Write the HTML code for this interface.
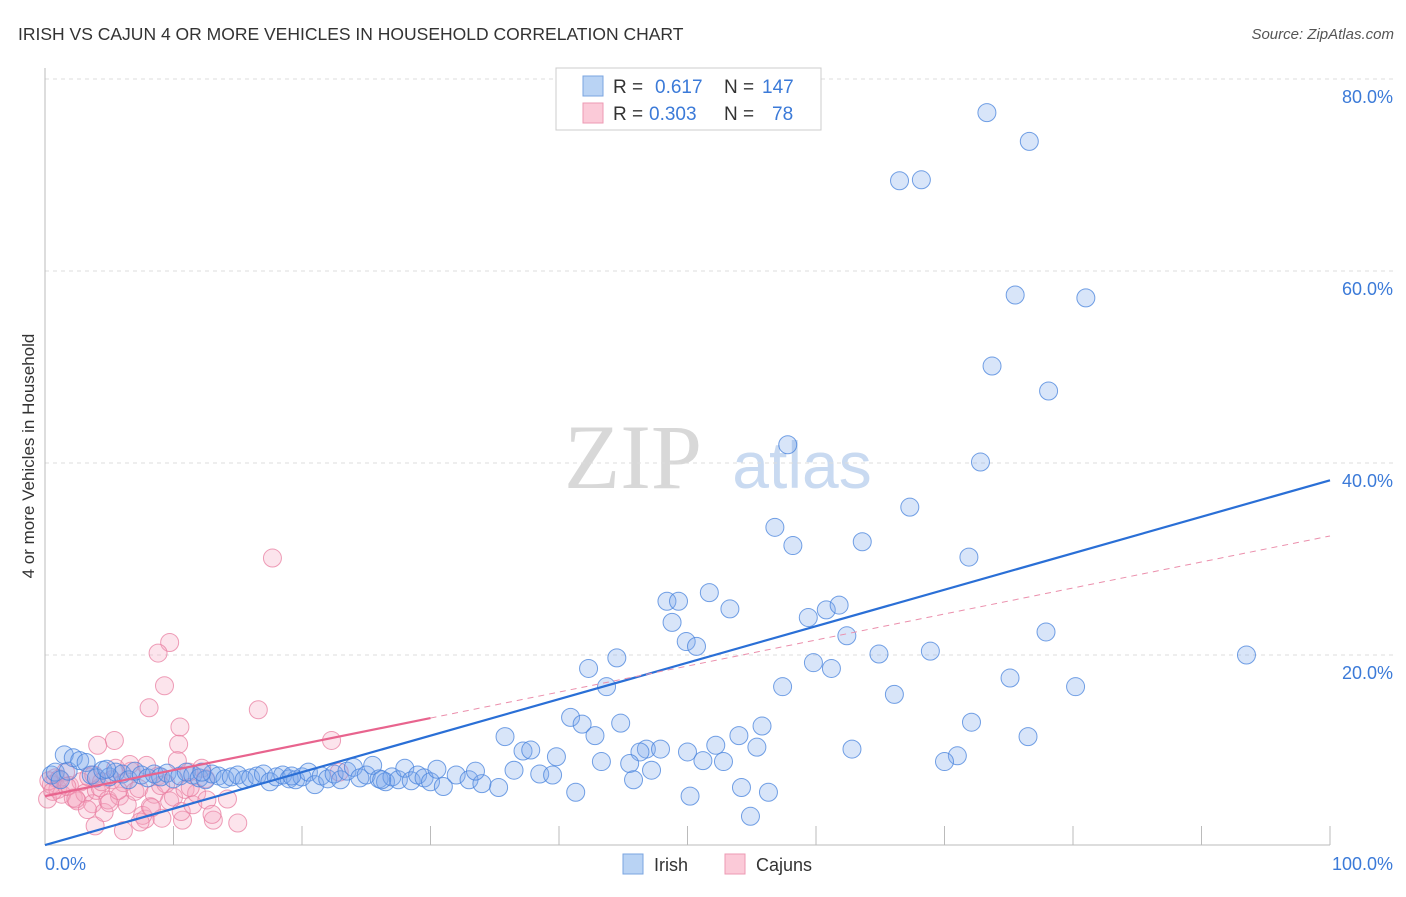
<!DOCTYPE html>
<html><head><meta charset="utf-8"><style>
body{margin:0;background:#fff;font-family:"Liberation Sans",sans-serif}
</style></head><body>
<svg id="c" width="1406" height="892" xmlns="http://www.w3.org/2000/svg">
<text x="18" y="40" font-size="17.5" fill="#333">IRISH VS CAJUN 4 OR MORE VEHICLES IN HOUSEHOLD CORRELATION CHART</text>
<text x="1394" y="39" font-size="15" fill="#555" font-style="italic" text-anchor="end">Source: ZipAtlas.com</text>
<text x="633" y="488" font-size="92" fill="#d8d8d8" font-family="Liberation Serif,serif" text-anchor="middle">ZIP</text>
<text x="802" y="488" font-size="66" fill="#c9daf1" text-anchor="middle">atlas</text>
<text transform="translate(34,456) rotate(-90)" font-size="17" fill="#333" text-anchor="middle">4 or more Vehicles in Household</text>
<g id="grid"></g><g id="pts"></g><g id="lines"></g>
<g>
<rect x="556" y="68" width="265" height="62" fill="#fff" stroke="#ccc"/>
<rect x="583" y="76" width="20" height="20" fill="#b9d3f4" stroke="#7aa5e0"/>
<rect x="583" y="103" width="20" height="20" fill="#fbcad8" stroke="#ec9ab3"/>
<text x="613" y="93" font-size="19" fill="#333">R =</text><text x="655" y="93" font-size="19" fill="#3b7ad8">0.617</text>
<text x="724" y="93" font-size="19" fill="#333">N =</text><text x="762" y="93" font-size="19" fill="#3b7ad8">147</text>
<text x="613" y="120" font-size="19" fill="#333">R =</text><text x="649" y="120" font-size="19" fill="#3b7ad8">0.303</text>
<text x="724" y="120" font-size="19" fill="#333">N =</text><text x="772" y="120" font-size="19" fill="#3b7ad8">78</text>
</g>
<g>
<rect x="623" y="854" width="20" height="20" fill="#b9d3f4" stroke="#7aa5e0"/>
<text x="654" y="871" font-size="18" fill="#333">Irish</text>
<rect x="725" y="854" width="20" height="20" fill="#fbcad8" stroke="#ec9ab3"/>
<text x="756" y="871" font-size="18" fill="#333">Cajuns</text>
</g>
</svg>
<script>
const yTicks=[20,40,60,80];
const yTickLabels=["20.0%","40.0%","60.0%","80.0%"];
const xTicks=[10,20,30,40,50,60,70,80,90,100];
const irishX=[73.3,76.6,66.5,68.2,75.5,81,73.7,78.1,57.8,72.8,67.3,56.8,58.2,63.6,71.9,51.7,48.4,49.3,53.3,48.8,59.4,60.8,61.8,49.9,50.7,62.4,77.9,93.5,44.5,42.3,64.9,68.9,59.8,61.2,43.7,57.4,66.1,75.1,80.2,40.9,41.8,44.8,35.8,42.8,54,55.8,72.1,76.5,52.2,55.4,62.8,46.8,47.9,46.3,50,37.2,37.8,39.8,43.3,45.5,51.2,52.8,71,70,47.2,45.8,54.2,41.3,50.2,56.3,54.9,35.3,
0.5,0.8,1.2,1.5,1.8,2.2,2.7,3.2,3.6,4.0,4.5,5.0,5.5,6.0,6.5,7.0,7.5,8.0,8.5,9.0,9.5,10,10.5,11,11.5,12,12.5,13,13.5,14,14.5,15,15.5,16,16.5,17,17.5,18,18.5,19,19.5,20,20.5,21,21.5,22,22.5,23,23.5,24,24.5,25,25.5,26,26.5,27,27.5,28,28.5,29,29.5,30,31,32,33,34,36.5,38.5,39.5,33.5,30.5,26.2,19.2,12.2,4.8];
const irishY=[76.5,73.5,69.4,69.5,57.5,57.2,50.1,47.5,41.9,40.1,35.4,33.3,31.4,31.8,30.2,26.5,25.6,25.6,24.8,23.4,23.9,24.7,25.2,21.4,20.9,22,22.4,20,19.7,18.6,20.1,20.4,19.2,18.6,16.7,16.7,15.9,17.6,16.7,13.5,12.8,12.9,11.5,11.6,11.6,12.6,13,11.5,10.6,10.4,10.2,10.2,10.2,9.9,9.9,10,10.1,9.4,8.9,8.7,9,8.9,9.5,8.9,8,7,6.2,5.7,5.3,5.7,3.2,6.2,
7.5,7.8,7.0,9.6,7.9,9.3,9.0,8.8,7.5,7.2,8.0,7.3,7.8,7.6,7.0,7.9,7.5,7.2,7.6,7.3,7.7,7.1,7.4,7.8,7.5,7.2,7.0,7.6,7.4,7.1,7.3,7.5,7.0,7.2,7.4,7.6,6.8,7.3,7.5,7.1,7.0,7.3,7.8,6.5,7.4,7.1,7.6,7.0,7.9,8.3,7.2,7.5,8.5,7.1,6.8,7.3,7.0,8.2,6.9,7.5,7.2,6.8,6.3,7.5,7.0,6.6,8.0,7.6,7.5,7.9,8.1,7.0,7.4,7.8,8.1];
const cajunX=[17.7,9.7,8.8,9.3,8.1,16.6,10.5,10.4,22.3,5.4,4.1,6.1,15,13.1,10.7,3.9,7.8,0.2,0.5,0.8,1.0,1.3,1.6,1.9,2.2,2.5,2.8,3.1,3.4,3.7,4.0,4.3,4.6,4.9,5.2,5.5,5.8,6.1,6.4,6.7,7.0,7.3,7.6,7.9,8.2,8.5,8.8,9.1,9.4,9.7,10,10.3,10.6,10.9,11.2,11.5,11.8,12.2,12.6,13,0.3,0.6,1.1,1.7,2.4,3.3,3.8,4.4,5.0,5.7,6.6,7.4,8.3,9.0,11.3,12.5,14.2,22.9];
const cajunY=[30.1,21.3,20.2,16.8,14.5,14.3,12.5,10.7,11.1,11.1,10.6,1.7,2.5,2.8,2.8,2.2,2.9,5.0,6.5,7.2,6.0,5.5,7.8,6.4,5.1,4.8,6.8,5.6,7.3,4.5,5.9,6.2,3.6,4.9,7.0,8.2,5.3,6.7,4.4,7.9,5.8,6.1,3.3,8.5,4.2,5.5,7.4,3.0,6.6,4.8,5.2,9.0,3.7,6.0,7.8,4.4,5.6,8.2,4.9,3.4,6.9,5.8,7.1,6.3,5.0,3.9,7.5,6.8,4.6,5.9,8.6,2.6,4.1,6.4,6.2,7.1,5.0,7.8];
const irishFit=[0.2,38.2];
const cajunFit=[5.3,32.4];
const cajunSolidEnd=30;
const NS="http://www.w3.org/2000/svg";
const X=v=>45+v*12.85, Y=v=>847-v*9.6;
function mk(t,a,p){const e=document.createElementNS(NS,t);for(const k in a)e.setAttribute(k,a[k]);p.appendChild(e);return e;}
const grid=document.getElementById('grid');
yTicks.forEach((t,i)=>{
const l=mk('line',{x1:45,x2:1393,y1:Y(t),y2:Y(t),stroke:'#ddd','stroke-dasharray':'4,4'},grid);


const tx=mk('text',{x:1393,y:Y(t)+24,'font-size':18,fill:'#3b7ad8','text-anchor':'end'},grid);
tx.textContent=yTickLabels[i];


});
const ax=mk('line',{x1:45,x2:45,y1:68,y2:845,stroke:'#bbb'},grid);


const bx=mk('line',{x1:45,x2:1330,y1:845,y2:845,stroke:'#bbb'},grid);


xTicks.forEach(t=>{const l=mk('line',{x1:X(t),x2:X(t),y1:826,y2:845,stroke:'#bbb'},grid);

});
const x0=mk('text',{x:45,y:870,'font-size':18,fill:'#3b7ad8'},grid);x0.textContent='0.0%';


const x1=mk('text',{x:1393,y:870,'font-size':18,fill:'#3b7ad8','text-anchor':'end'},grid);x1.textContent='100.0%';


const pts=document.getElementById('pts');
cajunX.forEach((v,i)=>{const c=mk('circle',{cx:X(v),cy:Y(cajunY[i]),r:9,fill:'rgba(246,165,192,0.3)',stroke:'rgba(232,125,160,0.75)','stroke-width':1},pts);

});
irishX.forEach((v,i)=>{const c=mk('circle',{cx:X(v),cy:Y(irishY[i]),r:9,fill:'rgba(125,170,235,0.3)',stroke:'rgba(70,130,220,0.75)','stroke-width':1},pts);

});
const ln=document.getElementById('lines');
const f=(a,x)=>a[0]+(a[1]-a[0])*x/100;
const b=mk('line',{x1:X(0),y1:Y(f(irishFit,0)),x2:X(100),y2:Y(f(irishFit,100)),stroke:'#2a6fd6','stroke-width':2.2},ln);


const p=mk('line',{x1:X(0),y1:Y(f(cajunFit,0)),x2:X(cajunSolidEnd),y2:Y(f(cajunFit,cajunSolidEnd)),stroke:'#e8648e','stroke-width':2.2},ln);


const pd=mk('line',{x1:X(cajunSolidEnd),y1:Y(f(cajunFit,cajunSolidEnd)),x2:X(100),y2:Y(f(cajunFit,100)),stroke:'#eb8fac','stroke-width':1,'stroke-dasharray':'6,5'},ln);


</script>
</body></html>
